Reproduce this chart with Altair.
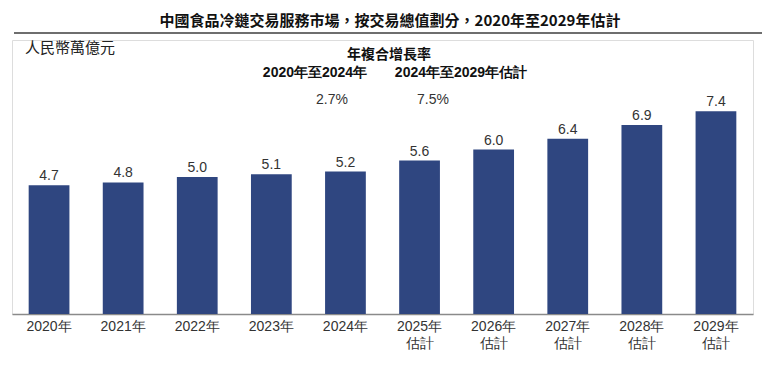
import altair as alt
import pandas as pd

years = ["2020年", "2021年", "2022年", "2023年", "2024年",
         "2025年\n估計", "2026年\n估計", "2027年\n估計", "2028年\n估計", "2029年\n估計"]
values = [4.7, 4.8, 5.0, 5.1, 5.2, 5.6, 6.0, 6.4, 6.9, 7.4]
labels = ["4.7", "4.8", "5.0", "5.1", "5.2", "5.6", "6.0", "6.4", "6.9", "7.4"]

title_text = "中國食品冷鏈交易服務市場，按交易總值劃分，2020年至2029年估計"
unit_text = "人民幣萬億元"
cagr_title = "年複合增長率"
cagr_periods = ["2020年至2024年", "2024年至2029年估計"]
cagr_values = ["2.7%", "7.5%"]

df = pd.DataFrame({"year": years, "value": values, "label": labels})

BAR = "#2F4680"
TXT = "#333333"
SANS = "Liberation Sans"
CJK = "Noto Sans CJK TC"

x = alt.X("year:N", sort=years, title=None,
          scale=alt.Scale(paddingInner=0.45, paddingOuter=0.225),
          axis=alt.Axis(labelAngle=0, labelFont=SANS, labelFontSize=14, labelColor=TXT,
                        labelExpr="split(datum.label, '\\n')", labelLineHeight=17,
                        labelPadding=5, ticks=False, domainColor="#8a8a8a", domainWidth=1.5))
y = alt.Y("value:Q", scale=alt.Scale(domain=[0, 10]), axis=None)

base = alt.Chart(df)
bars = base.mark_bar(color=BAR).encode(x=x, y=y)
vals = base.mark_text(font=SANS, fontSize=14, color=TXT, baseline="alphabetic", dy=-5).encode(
    x=x, y=y, text="label:N")

def txt(t, xv, yv, size=14, weight="normal", font=CJK, align="center", color="#111111"):
    return alt.Chart(pd.DataFrame({"t": [t]})).mark_text(
        font=font, fontSize=size, fontWeight=weight, align=align, baseline="middle", color=color
    ).encode(x=alt.value(xv), y=alt.value(yv), text="t:N")

rule = alt.Chart(pd.DataFrame({"a": [0]})).mark_rule(color="#6e6e6e", strokeWidth=2).encode(
    x=alt.value(2), x2=alt.value(750), y=alt.value(-7))

layers = [
    bars, vals, rule,
    txt(title_text, 378, -19, size=15, weight="bold"),
    txt(unit_text, 13, 8, size=15, align="left", color="#222222"),
    txt(cagr_title, 377, 15, size=14, weight="bold"),
    txt(cagr_periods[0], 303, 33, size=14, weight="bold", font=SANS),
    txt(cagr_periods[1], 449, 33, size=14, weight="bold", font=SANS),
    txt(cagr_values[0], 320, 60, size=14, font=SANS, color=TXT),
    txt(cagr_values[1], 421, 60, size=14, font=SANS, color=TXT),
]

chart = alt.layer(*layers).properties(
    width=741, height=274,
    autosize=alt.AutoSizeParams(type="none"),
    padding={"left": 4, "top": 32, "right": 11, "bottom": 48},
).configure_view(stroke=None).configure(background="white")

chart.save("out.html", embed_options={"renderer": "svg", "actions": False})
